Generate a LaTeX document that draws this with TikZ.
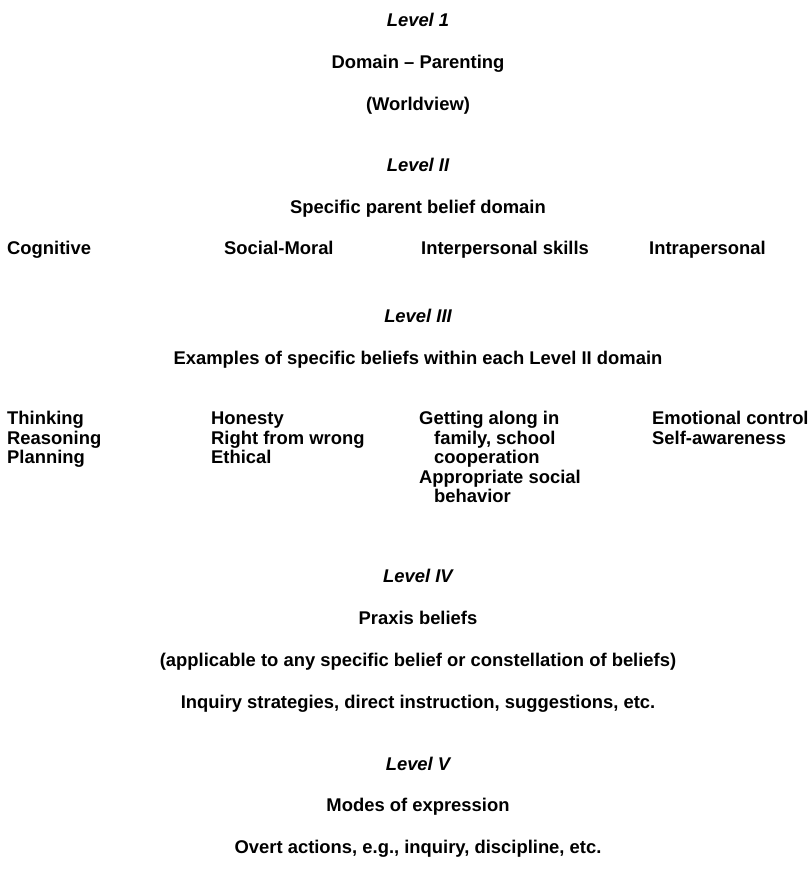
\documentclass[tikz,border=0pt]{standalone}
\usepackage{fontspec}
\setmainfont{Liberation Sans}
\begin{document}
\begin{tikzpicture}[x=1pt,y=-1pt,
  txt/.style={inner sep=0pt,font=\fontsize{18.4}{19.5}\selectfont\bfseries},
  lvl/.style={txt,font=\fontsize{18.4}{19.5}\selectfont\bfseries\itshape},
  ctr/.style={anchor=base},
  lft/.style={anchor=base west}]
\useasboundingbox (0,0) rectangle (810,885);
\def\cx{418}
\node[lvl,ctr] (l1) at (\cx,26.5) {Level 1};
\node[txt,ctr] (dom) at (\cx,68.5) {Domain – Parenting};
\node[txt,ctr] (wv) at (\cx,110.5) {(Worldview)};
\node[lvl,ctr] (l2) at (\cx,171.5) {Level II};
\node[txt,ctr] (spd) at (\cx,213.5) {Specific parent belief domain};
\node[txt,lft] (cog) at (7,254.5) {Cognitive};
\node[txt,lft] (soc) at (224,254.5) {Social-Moral};
\node[txt,lft] (inter) at (421,254.5) {Interpersonal skills};
\node[txt,lft] (intra) at (649,254.5) {Intrapersonal};
\node[lvl,ctr] (l3) at (\cx,322.5) {Level III};
\node[txt,ctr] (ex) at (\cx,364.5) {Examples of specific beliefs within each Level II domain};
% column 1
\node[txt,lft] (a1) at (7,424.5) {Thinking};
\node[txt,lft] (a2) at (7,444) {Reasoning};
\node[txt,lft] (a3) at (7,463.5) {Planning};
% column 2
\node[txt,lft] (b1) at (211,424.5) {Honesty};
\node[txt,lft] (b2) at (211,444) {Right from wrong};
\node[txt,lft] (b3) at (211,463.5) {Ethical};
% column 3
\node[txt,lft] (c1) at (419,424.5) {Getting along in};
\node[txt,lft] (c2) at (434,444) {family, school};
\node[txt,lft] (c3) at (434,463.5) {cooperation};
\node[txt,lft] (c4) at (419,483) {Appropriate social};
\node[txt,lft] (c5) at (434,502.5) {behavior};
% column 4
\node[txt,lft] (d1) at (652,424.5) {Emotional control};
\node[txt,lft] (d2) at (652,444) {Self-awareness};
\node[lvl,ctr] (l4) at (\cx,582.5) {Level IV};
\node[txt,ctr] (px) at (\cx,624.5) {Praxis beliefs};
\node[txt,ctr] (ap) at (\cx,666.5) {(applicable to any specific belief or constellation of beliefs)};
\node[txt,ctr] (inq) at (\cx,708.5) {Inquiry strategies, direct instruction, suggestions, etc.};
\node[lvl,ctr] (l5) at (\cx,770.5) {Level V};
\node[txt,ctr] (mo) at (\cx,811.5) {Modes of expression};
\node[txt,ctr] (ov) at (\cx,853.5) {Overt actions, e.g., inquiry, discipline, etc.};
\end{tikzpicture}
\end{document}
